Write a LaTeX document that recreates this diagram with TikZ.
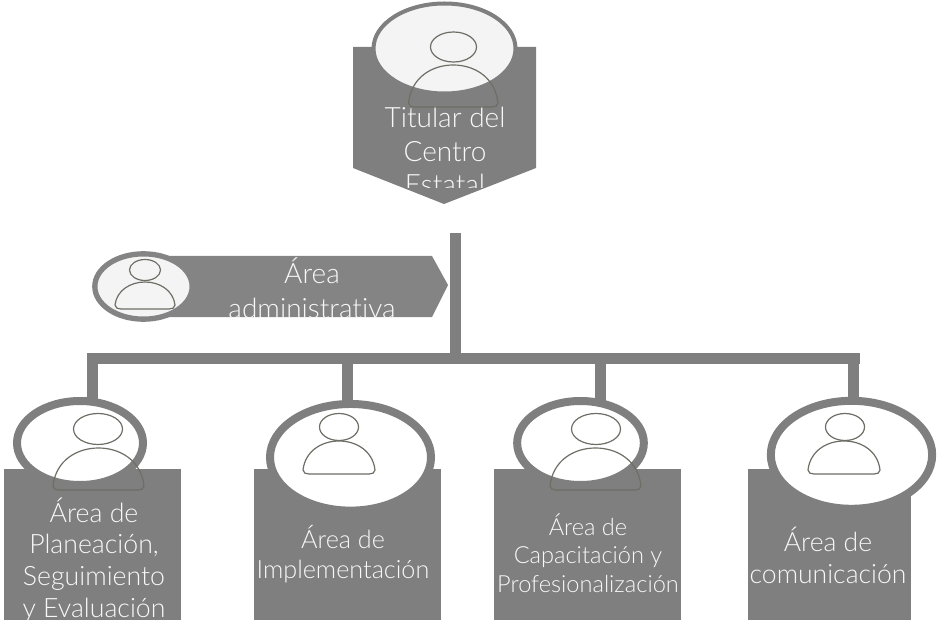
\documentclass[tikz,border=0pt]{standalone}
\usepackage{fontspec}
\setmainfont{Lato}[UprightFont={* Light},Ligatures=NoCommon]
\usetikzlibrary{shapes.geometric}
\definecolor{boxg}{HTML}{7F7F7F}
\definecolor{arrg}{HTML}{848484}
\definecolor{iconl}{HTML}{6E6E66}
\definecolor{txt}{HTML}{F8F8F8}
\definecolor{ovalf}{HTML}{F4F4F4}
\tikzset{
  x=0.75pt,y=-0.75pt,
  conn/.style={draw=boxg,line width=8.25pt},
  panel/.style={rectangle,fill=boxg,draw=none,inner sep=0pt,outer sep=0pt,anchor=north west},
  headoval/.style={ellipse,draw=boxg,fill=white,line width=6pt,inner sep=0pt,outer sep=0pt},
  lbl/.style={text=txt,align=center,inner sep=0pt,anchor=base},
  iconline/.style={draw=iconl,line width=0.9pt,line join=round}
}
% \personicon{head x}{head y}{head rx}{head ry}{body x1}{body x2}{body top}{body bottom}
\newcommand{\personicon}[8]{%
  \draw[iconline] (#1,#2) ellipse [x radius=#3*0.75pt,y radius=#4*0.75pt];
  \draw[iconline] ({#5},{#8-4}) .. controls ({#5+0.03*(#6-#5)},{#7+0.30*(#8-#7)}) and ({#5+0.26*(#6-#5)},{#7}) .. ({0.5*(#5+#6)},{#7})
     .. controls ({#6-0.26*(#6-#5)},{#7}) and ({#6-0.03*(#6-#5)},{#7+0.30*(#8-#7)}) .. ({#6},{#8-4})
     .. controls ({#6},{#8-1}) and ({#6-3},{#8}) .. ({#6-6},{#8}) -- ({#5+6},{#8})
     .. controls ({#5+3},{#8}) and ({#5},{#8-1}) .. ({#5},{#8-4}) -- cycle;
}
\begin{document}
\begin{tikzpicture}
\useasboundingbox (0,0) rectangle (938,620);
\clip (0,0) rectangle (938,620);
% top
\fill[boxg] (353,47) -- (536,47) -- (536,168) -- (444,204) -- (353,168) -- cycle;
\node[headoval,fill=ovalf,line width=3pt,minimum width=106.5pt,minimum height=67.5pt] (topoval) at (444.5,48.5) {};
\begin{scope}
\clip (340,100) rectangle (540,188);
\node[lbl,font=\fontsize{21}{24.75}\selectfont] (toptxt) at (445,128) {Titular del};
\node[lbl,font=\fontsize{21}{24.75}\selectfont] (toptxt2) at (445,161.5) {Centro};
\node[lbl,font=\fontsize{21}{24.75}\selectfont] (toptxt3) at (445,195) {Estatal};
\end{scope}
% admin
\fill[arrg] (150,256) -- (432,256) -- (448,285) -- (432,317) -- (150,317) -- cycle;
\node[headoval,fill=ovalf,draw=arrg,line width=4pt,minimum width=73pt,minimum height=49pt] (admoval) at (143.5,286.5) {};
\begin{scope}
\clip (200,250) rectangle (440,318);
\node[lbl,font=\fontsize{21}{24}\selectfont] (admtxt) at (312,283) {Área};
\node[lbl,font=\fontsize{21}{24}\selectfont] (admtxt2) at (312,318) {administrativa};
\end{scope}
% boxes
\node[panel,minimum width=132.75pt,minimum height=113.25pt] (b1) at (4,469) {};
\node[panel,minimum width=140.25pt,minimum height=113.25pt] (b2) at (254,469) {};
\node[panel,minimum width=140.25pt,minimum height=113.25pt] (b3) at (494,469) {};
\node[panel,minimum width=122.25pt,minimum height=113.25pt] (b4) at (748,469) {};
% ovals
\node[headoval,minimum width=94.5pt,minimum height=63pt] (e1) at (80,443) {};
\node[headoval,minimum width=120.75pt,minimum height=80pt] (e2) at (350.5,457.3) {};
\node[headoval,minimum width=95pt,minimum height=63pt] (e3) at (580.5,443) {};
\node[headoval,minimum width=121pt,minimum height=81pt] (e4) at (851.5,454.8) {};
% connectors
\coordinate (tr) at (455.5,233);
\coordinate (busL) at (87,358);
\coordinate (busR) at (860,358);
\coordinate (d1) at (92.5,358);
\coordinate (d2) at (347.5,358);
\coordinate (d3) at (600.5,358);
\coordinate (d4) at (853.5,358);
\draw[conn] (tr) -- (tr |- busL);
\draw[conn] (busL) -- (busR);
\draw[conn] (d1) -- (d1 |- e1.north);
\draw[conn] (d2) -- (d2 |- e2.north);
\draw[conn] (d3) -- (d3 |- e3.north);
\draw[conn] (d4) -- (d4 |- e4.north);
% labels
\node[lbl,font=\fontsize{20}{24}\selectfont] (t1a) at (94,522) {Área de};
\node[lbl,font=\fontsize{20}{24}\selectfont] (t1b) at (94,553) {Planeación,};
\node[lbl,font=\fontsize{20}{24}\selectfont] (t1c) at (94,585) {Seguimiento};
\node[lbl,font=\fontsize{20}{24}\selectfont] (t1d) at (94,617) {y Evaluación};
\node[lbl,font=\fontsize{18.9}{24}\selectfont] (t2a) at (343,548) {Área de};
\node[lbl,font=\fontsize{18.9}{24}\selectfont] (t2b) at (343,578) {Implementación};
\node[lbl,font=\fontsize{17.7}{24}\selectfont] (t3a) at (588,535) {Área de};
\node[lbl,font=\fontsize{17.7}{24}\selectfont] (t3b) at (588,563) {Capacitación y};
\node[lbl,font=\fontsize{17.7}{24}\selectfont] (t3c) at (588,592) {Profesionalización};
\node[lbl,font=\fontsize{19.9}{24}\selectfont] (t4a) at (828,551) {Área de};
\node[lbl,font=\fontsize{19.9}{24}\selectfont] (t4b) at (828,583) {comunicación};
% icons
\personicon{453.5}{47}{23}{15}{408.5}{498}{65}{107}
\personicon{145}{270}{15.5}{10.5}{115}{175}{282}{309}
\personicon{98}{429}{24.5}{15.5}{53}{144}{448}{490}
\personicon{339}{427}{19.5}{13.5}{303}{375}{441}{474}
\personicon{596}{429}{24.5}{15.5}{550}{641}{448}{490}
\personicon{845}{427}{19.5}{13.5}{808}{880}{441}{474}
\end{tikzpicture}
\end{document}
